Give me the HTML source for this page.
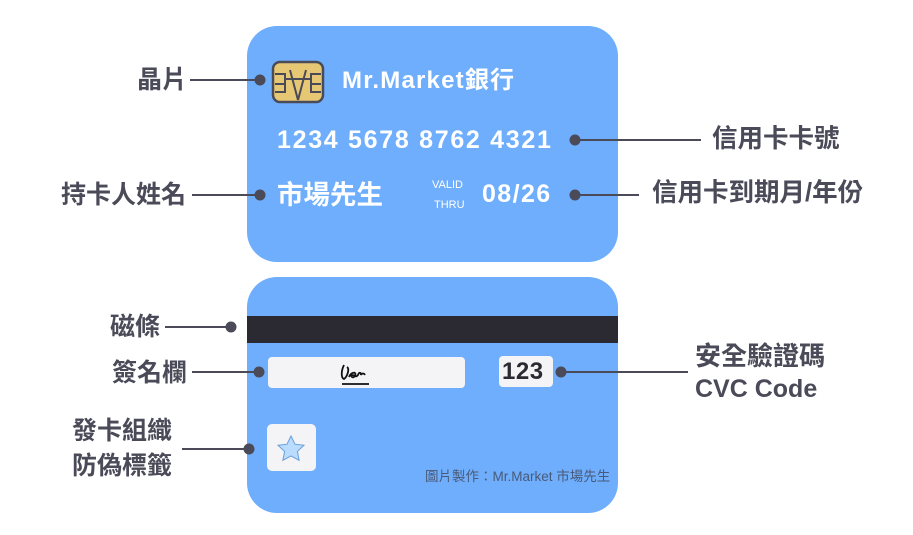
<!DOCTYPE html>
<html><head><meta charset="utf-8"><style>
body{margin:0;background:#fff;width:913px;height:535px;overflow:hidden;position:relative;font-family:"Liberation Sans","Noto Sans CJK TC",sans-serif}
.card{position:absolute;left:247px;width:371px;height:236px;background:#6eaefc;border-radius:30px;overflow:hidden}
.t{position:absolute;white-space:nowrap;font-weight:bold;line-height:1}
.lab{color:#4a4a58;font-size:25px}
.w{color:#fff}
</style></head><body>
<div class="card" style="top:26px"></div>
<div class="card" style="top:277px">
 <div style="position:absolute;left:0;top:39px;width:371px;height:27px;background:#2b2a33"></div>
 <div style="position:absolute;left:21px;top:80px;width:197px;height:31px;background:#f4f4f7;border-radius:4px"></div>
 <div style="position:absolute;left:252px;top:79px;width:54px;height:31px;background:#f4f4f7;border-radius:4px"></div>
 <div style="position:absolute;left:20px;top:147px;width:49px;height:47px;background:#f4f4f7;border-radius:5px"></div>
</div>
<svg style="position:absolute;left:0;top:0" width="913" height="535">
 <rect x="273" y="62" width="50" height="40" rx="7" fill="#e6c874" stroke="#4a4a58" stroke-width="2.5"/>
 <path d="M275 74h10v10h-10M275 92h10v-8M321 74h-10v10h10M321 92h-10v-8M285 79h26M290 70l8 30M306 70l-8 30" fill="none" stroke="#4a4a58" stroke-width="2"/>
 <g stroke="#4a4a58" stroke-width="2" fill="#4a4a58">
  <line x1="190" y1="80" x2="260" y2="80"/><circle cx="260" cy="80" r="4.5"/>
  <line x1="192" y1="195" x2="260" y2="195"/><circle cx="260" cy="195" r="4.5"/>
  <line x1="575" y1="140" x2="701" y2="140"/><circle cx="575" cy="140" r="4.5"/>
  <line x1="575" y1="195" x2="639" y2="195"/><circle cx="575" cy="195" r="4.5"/>
  <line x1="165" y1="327" x2="231" y2="327"/><circle cx="231" cy="327" r="4.5"/>
  <line x1="192" y1="372" x2="259" y2="372"/><circle cx="259" cy="372" r="4.5"/>
  <line x1="182" y1="449" x2="249" y2="449"/><circle cx="249" cy="449" r="4.5"/>
  <line x1="561" y1="372" x2="688" y2="372"/><circle cx="561" cy="372" r="4.5"/>
 </g>
 <path d="M291 436l4 8.2 9 1.1-6.6 6.1 1.7 8.9-8.1-4.4-8.1 4.4 1.7-8.9-6.6-6.1 9-1.1z" fill="#b9dcff" stroke="#6a9fd8" stroke-width="1"/>
 <path d="M344 365c-3 6-3 13 0 14c3-2 6-10 3-12M349 377c2-5 8-6 6-1c-2 3-5 0-3-1c3 0 4 3 6 0c1-3 3-3 3 0c1-2 3-2 4 0M342 384h27" fill="none" stroke="#111" stroke-width="1.8"/>
</svg>
<div class="t w" style="left:342px;top:69px;font-size:24px;letter-spacing:1.2px">Mr.Market銀行</div>
<div class="t w" style="left:277px;top:128px;font-size:25px;letter-spacing:1.7px">1234 5678 8762 4321</div>
<div class="t w" style="left:277px;top:182px;font-size:26.5px">市場先生</div>
<div class="t w" style="left:432px;top:180px;font-size:11px;font-weight:normal">VALID</div>
<div class="t w" style="left:434px;top:200px;font-size:11px;font-weight:normal">THRU</div>
<div class="t w" style="left:482px;top:182px;font-size:25px;letter-spacing:1.4px">08/26</div>
<div class="t" style="left:502px;top:360px;font-size:24px;color:#2b2a33;letter-spacing:0.5px">123</div>
<div class="t" style="left:425px;top:470px;font-size:13.5px;font-weight:normal;color:#4a5a78">圖片製作：Mr.Market 市場先生</div>
<div class="t lab" style="left:137px;top:68px">晶片</div>
<div class="t lab" style="left:61px;top:183px">持卡人姓名</div>
<div class="t lab" style="left:110px;top:315px">磁條</div>
<div class="t lab" style="left:112px;top:361px">簽名欄</div>
<div class="t lab" style="left:72px;top:419px">發卡組織</div>
<div class="t lab" style="left:72px;top:454px">防偽標籤</div>
<div class="t lab" style="left:712px;top:127px;font-size:25.5px">信用卡卡號</div>
<div class="t lab" style="left:652px;top:181px;font-size:25.5px">信用卡到期月/年份</div>
<div class="t lab" style="left:695px;top:343px;font-size:26px">安全驗證碼</div>
<div class="t lab" style="left:695px;top:377px">CVC Code</div>
</body></html>
